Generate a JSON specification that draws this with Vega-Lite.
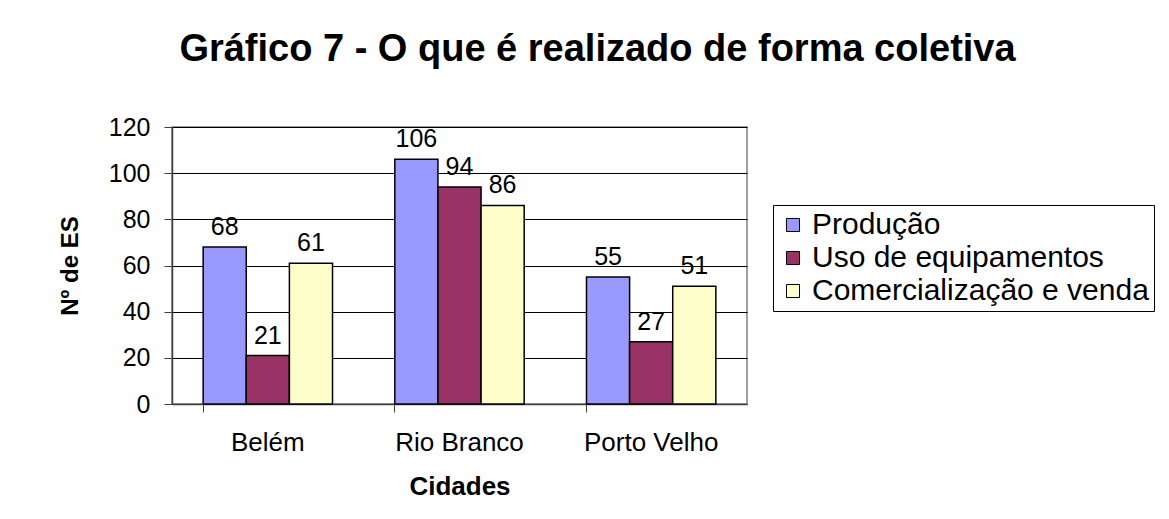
{
  "$schema": "https://vega.github.io/schema/vega-lite/v6.json",
  "width": 575,
  "height": 277,
  "autosize": {"type": "none"},
  "padding": {"left": 172, "top": 127, "right": 422, "bottom": 115},
  "background": "white",
  "title": {
    "text": "Gráfico 7 - O que é realizado de forma coletiva",
    "font": "Liberation Sans",
    "fontSize": 38,
    "fontWeight": "bold",
    "color": "black",
    "anchor": "middle",
    "frame": "group",
    "dx": 138,
    "baseline": "alphabetic",
    "offset": 16
  },
  "config": {
    "font": "Liberation Sans",
    "view": {"stroke": "#808080", "strokeWidth": 1.5}
  },
  "data": {
    "values": [
      {"cidade": "Belém", "tipo": "Produção", "valor": 68},
      {"cidade": "Belém", "tipo": "Uso de equipamentos", "valor": 21},
      {"cidade": "Belém", "tipo": "Comercialização e venda", "valor": 61},
      {"cidade": "Rio Branco", "tipo": "Produção", "valor": 106},
      {"cidade": "Rio Branco", "tipo": "Uso de equipamentos", "valor": 94},
      {"cidade": "Rio Branco", "tipo": "Comercialização e venda", "valor": 86},
      {"cidade": "Porto Velho", "tipo": "Produção", "valor": 55},
      {"cidade": "Porto Velho", "tipo": "Uso de equipamentos", "valor": 27},
      {"cidade": "Porto Velho", "tipo": "Comercialização e venda", "valor": 51}
    ]
  },
  "encoding": {
    "x": {
      "field": "cidade",
      "type": "nominal",
      "sort": ["Belém", "Rio Branco", "Porto Velho"],
      "scale": {"paddingInner": 0.325, "paddingOuter": 0.1625},
      "axis": {
        "title": "Cidades",
        "titleFont": "Liberation Sans",
        "titleFontSize": 26,
        "titleFontWeight": "bold",
        "titleColor": "black",
        "titlePadding": 18,
        "labelAngle": 0,
        "labelFontSize": 26,
        "labelColor": "black",
        "labelPadding": 17,
        "bandPosition": 0,
        "tickSize": 8,
        "tickColor": "#404040",
        "domainColor": "#404040",
        "domainWidth": 1.5,
        "grid": false
      }
    },
    "xOffset": {
      "field": "tipo",
      "type": "nominal",
      "sort": ["Produção", "Uso de equipamentos", "Comercialização e venda"],
      "scale": {"paddingInner": 0, "paddingOuter": 0}
    },
    "y": {
      "field": "valor",
      "type": "quantitative",
      "scale": {"domain": [0, 120], "nice": false},
      "axis": {
        "title": "Nº de ES",
        "titleFont": "Liberation Sans",
        "titleFontSize": 24,
        "titleFontWeight": "bold",
        "titleColor": "black",
        "titlePadding": 26,
        "values": [0, 20, 40, 60, 80, 100, 120],
        "labelFontSize": 25,
        "labelColor": "black",
        "labelPadding": 14,
        "tickSize": 8,
        "tickColor": "#404040",
        "domainColor": "#404040",
        "domainWidth": 1.5,
        "grid": true,
        "gridColor": "black",
        "gridWidth": 1
      }
    }
  },
  "layer": [
    {
      "mark": {"type": "bar", "stroke": "black", "strokeWidth": 1.5},
      "encoding": {
        "color": {
          "field": "tipo",
          "type": "nominal",
          "sort": ["Produção", "Uso de equipamentos", "Comercialização e venda"],
          "scale": {
            "domain": ["Produção", "Uso de equipamentos", "Comercialização e venda"],
            "range": ["#9999FF", "#993366", "#FFFFCC"]
          },
          "legend": {
            "title": null,
            "orient": "none",
            "legendX": 601,
            "legendY": 78,
            "strokeColor": "black",
            "padding": 5,
            "symbolType": "square",
            "symbolSize": 170,
            "symbolStrokeColor": "black",
            "symbolStrokeWidth": 1,
            "symbolOpacity": 1,
            "labelFontSize": 30,
            "labelColor": "black",
            "labelLimit": 450,
            "rowPadding": 3
          }
        }
      }
    },
    {
      "mark": {"type": "text", "baseline": "alphabetic", "dy": -12, "fontSize": 25, "color": "black"},
      "encoding": {
        "text": {"field": "valor", "type": "quantitative"}
      }
    }
  ]
}
